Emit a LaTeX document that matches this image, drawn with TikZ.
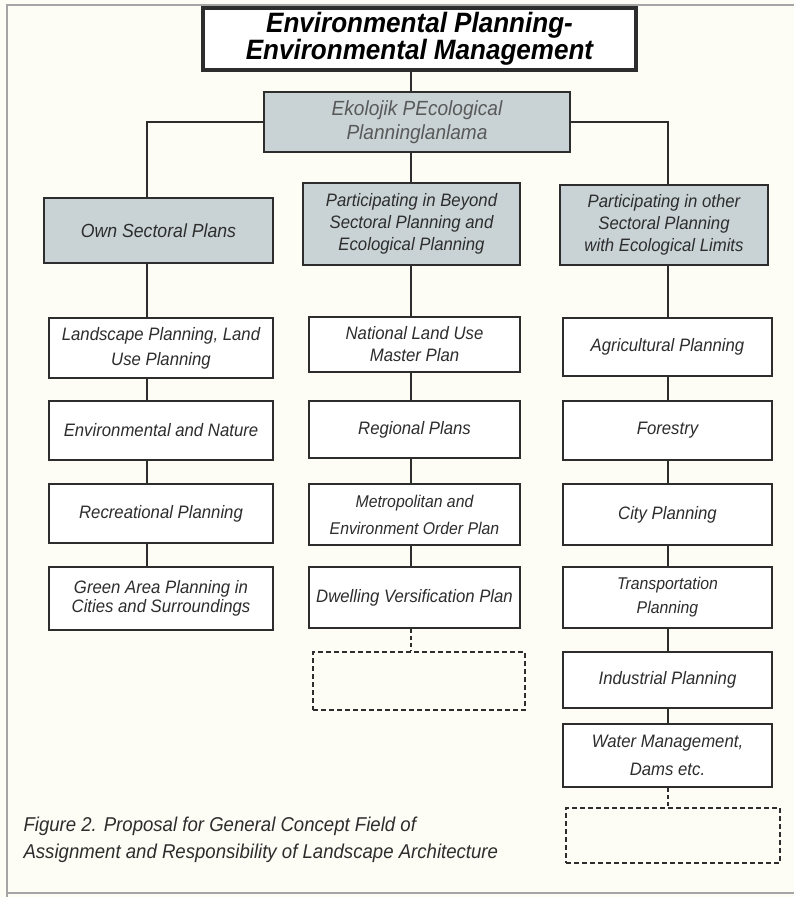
\documentclass[tikz,border=0pt]{standalone}
\usepackage{fontspec}
\setmainfont{Liberation Sans}[FakeStretch=0.93]
\usepackage{tikz}

\definecolor{paper}{RGB}{253,253,246}
\definecolor{ecogray}{RGB}{201,211,213}
\definecolor{framegray}{RGB}{165,165,165}
\definecolor{inkgray}{RGB}{45,45,45}

\begin{document}
\begin{tikzpicture}[x=1pt, y=-1pt,
    planbox/.style={draw=inkgray, line width=2pt, fill=white, align=center, inner sep=1pt,
      text=inkgray, font=\itshape\fontsize{18}{25}\selectfont},
    headbox/.style={planbox, fill=ecogray, font=\itshape\fontsize{18}{22}\selectfont},
    openbox/.style={draw=inkgray, line width=2pt, dash pattern=on 5pt off 3pt},
    link/.style={draw=inkgray, line width=2pt}]
        \fill[paper] (0,0) rectangle (794,897);
        \useasboundingbox (0,0) rectangle (794,897);
        % frame of the page
        \draw[framegray, line width=1.5pt] (794,5) -- (7,5) -- (7,897);
        \draw[framegray, line width=1.5pt] (7,893) -- (794,893);
        % column lines
        \coordinate (c1) at (147,0);
        \coordinate (c2) at (411,0);
        \coordinate (c3) at (668,0);
        % top of the tree
        \node (env) at (419.5,39) [planbox, line width=3.5pt, text=black, minimum width=433, minimum height=62,
          font=\bfseries\itshape\fontsize{28}{25}\selectfont] {Environmental Planning-\\Environmental Management};
        \node (eco) at (417,122) [headbox, minimum width=306, minimum height=60, text=black!65,
          font=\itshape\fontsize{20.5}{24}\selectfont] {Ekolojik PEcological\\Planninglanlama};
        \node (hdrA) at (158.5,230.5) [headbox, minimum width=229, minimum height=65, font=\itshape\fontsize{19}{22}\selectfont] {Own Sectoral Plans};
        \node (hdrB) at (411.5,224) [headbox, minimum width=217, minimum height=82] {Participating in Beyond\\Sectoral Planning and\\Ecological Planning};
        \node (hdrC) at (664,225) [headbox, minimum width=208, minimum height=80] {Participating in other\\Sectoral Planning\\with Ecological Limits};
        % own sectoral plans
        \node (lsA) at (161,348) [planbox, minimum width=224, minimum height=60] {Landscape Planning, Land\\Use Planning};
        \node (lsB) at (161,430.5) [planbox, minimum width=224, minimum height=59] {Environmental and Nature};
        \node (lsC) at (161,513.5) [planbox, minimum width=224, minimum height=59] {Recreational Planning};
        \node (lsD) at (161,598.5) [planbox, minimum width=224, minimum height=63, font=\itshape\fontsize{18}{19}\selectfont] {Green Area Planning in\\Cities and Surroundings};
        % beyond sectoral planning
        \node (mpA) at (414.5,344.5) [planbox, minimum width=211, minimum height=55, font=\itshape\fontsize{18}{22}\selectfont] {National Land Use\\Master Plan};
        \node (mpB) at (414.5,429.5) [planbox, minimum width=211, minimum height=57] {Regional Plans};
        \node (mpC) at (414.5,514.5) [planbox, minimum width=211, minimum height=61, font=\itshape\fontsize{17}{27}\selectfont] {Metropolitan and\\Environment Order Plan};
        \node (mpD) at (414.5,597.5) [planbox, minimum width=211, minimum height=61] {Dwelling Versification Plan};
        \node (mpE) at (419,681) [openbox, minimum width=212, minimum height=58] {};
        % other sectoral planning
        \node (spA) at (667.5,347) [planbox, minimum width=209, minimum height=58] {Agricultural Planning};
        \node (spB) at (667.5,430.5) [planbox, minimum width=209, minimum height=59] {Forestry};
        \node (spC) at (667.5,514.5) [planbox, minimum width=209, minimum height=61] {City Planning};
        \node (spD) at (667.5,597.5) [planbox, minimum width=209, minimum height=61, font=\itshape\fontsize{17}{24}\selectfont] {Transportation\\Planning};
        \node (spE) at (667.5,680) [planbox, minimum width=209, minimum height=56] {Industrial Planning};
        \node (spF) at (667.5,755.5) [planbox, minimum width=209, minimum height=63, font=\itshape\fontsize{18}{28}\selectfont] {Water Management,\\Dams etc.};
        \node (spG) at (673,835.5) [openbox, minimum width=214, minimum height=55] {};
        % connectors
        \draw[link] (env.south -| c2) -- (eco.north -| c2);
        \draw[link] (eco.west) -| (hdrA.north -| c1);
        \draw[link] (eco.east) -| (hdrC.north -| c3);
        \draw[link] (eco.south -| c2) -- (hdrB.north -| c2);
        \foreach \a/\b in {hdrA/lsA, lsA/lsB, lsB/lsC, lsC/lsD}
          \draw[link] (\a.south -| c1) -- (\b.north -| c1);
        \foreach \a/\b in {hdrB/mpA, mpA/mpB, mpB/mpC, mpC/mpD}
          \draw[link] (\a.south -| c2) -- (\b.north -| c2);
        \foreach \a/\b in {hdrC/spA, spA/spB, spB/spC, spC/spD, spD/spE, spE/spF}
          \draw[link] (\a.south -| c3) -- (\b.north -| c3);
        \draw[link, dash pattern=on 4pt off 3pt] (mpD.south -| c2) -- (mpE.north -| c2);
        \draw[link, dash pattern=on 4pt off 3pt] (spF.south -| c3) -- (spG.north -| c3);
        % caption
        \node (cap) at (20,813) [anchor=north west, align=left, text=inkgray,
          font=\itshape\fontsize{20}{27}\selectfont] {Figure 2. Proposal for General Concept Field of\\Assignment and Responsibility of Landscape Architecture};
      \end{tikzpicture}
\end{document}
